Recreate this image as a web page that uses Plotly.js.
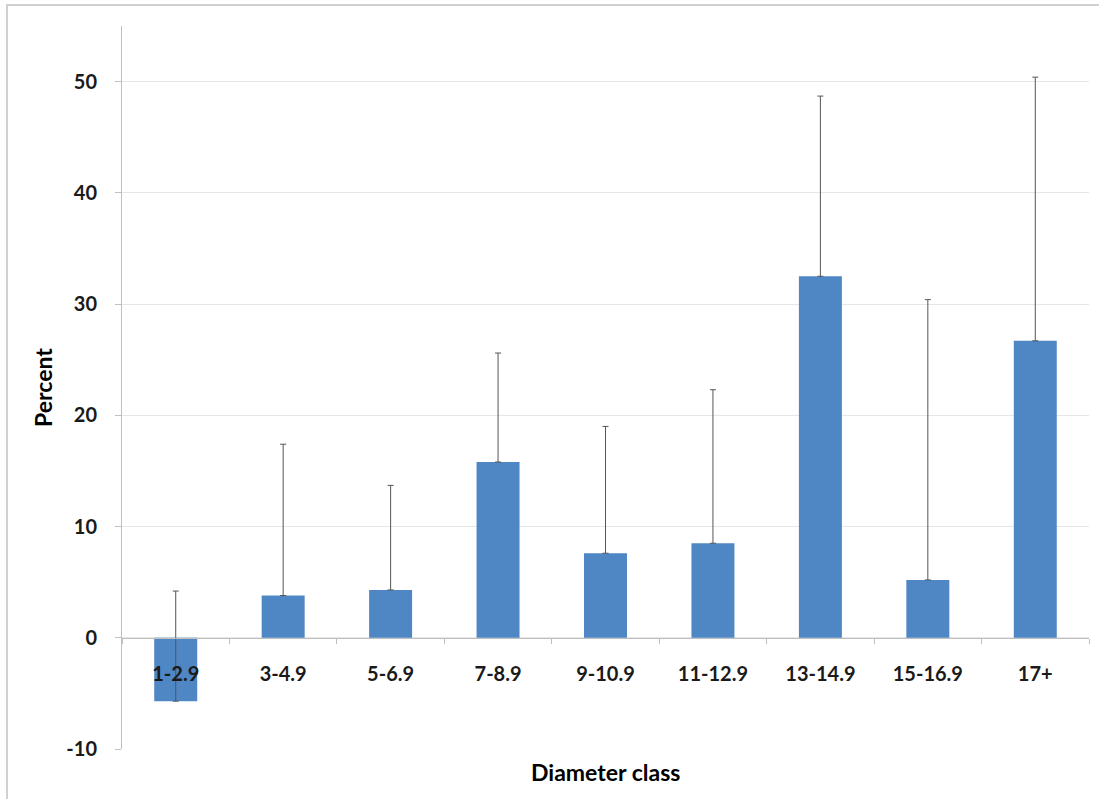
<!DOCTYPE html>
<html>
<head>
<meta charset="utf-8">
<script src="https://cdn.plot.ly/plotly-3.0.1.min.js"></script>
<style>
  html, body { margin: 0; padding: 0; background: #ffffff; }
  #chart { width: 1099px; height: 799px; }
</style>
</head>
<body>
<div id="chart"></div>
<script>
const categories = ["1-2.9", "3-4.9", "5-6.9", "7-8.9", "9-10.9", "11-12.9", "13-14.9", "15-16.9", "17+"];
const percentValues = [-5.7, 3.8, 4.3, 15.8, 7.6, 8.5, 32.5, 5.2, 26.7];
const errorPlus = [9.9, 13.6, 9.4, 9.8, 11.4, 13.8, 16.2, 25.2, 23.7];
const errorMinus = [0, 0, 0, 0, 0, 0, 0, 0, 0];
const yTickValues = [-10, 0, 10, 20, 30, 40, 50];
const xTitle = "Diameter class";
const yTitle = "Percent";

const W = 1099, H = 799;
const mL = 122, mR = 10, mT = 26, mB = 50;
const plotW = W - mL - mR, plotH = H - mT - mB;
const yMin = -10, yMax = 55;
const fontFam = "Lato, 'Open Sans', 'Liberation Sans', sans-serif";

const trace = {
  type: "bar",
  x: categories,
  y: percentValues,
  width: 0.4,
  marker: { color: "#4F86C4", line: { width: 0 } },
  error_y: {
    type: "data",
    symmetric: false,
    array: errorPlus,
    arrayminus: errorMinus,
    color: "#555555",
    thickness: 1,
    width: 3
  },
  hoverinfo: "x+y"
};

const layout = {
  width: W,
  height: H,
  margin: { l: mL, r: mR, t: mT, b: mB },
  paper_bgcolor: "#ffffff",
  plot_bgcolor: "#ffffff",
  showlegend: false,
  font: { family: fontFam, size: 20, color: "#000000" },
  xaxis: {
    type: "category",
    categoryorder: "array",
    categoryarray: categories,
    range: [-0.5, categories.length - 0.5],
    anchor: "free",
    position: (0 - yMin) / (yMax - yMin),
    showline: true,
    linecolor: "#BFBFBF",
    linewidth: 1,
    ticks: "outside",
    tickson: "boundaries",
    ticklen: 5,
    tickcolor: "#BFBFBF",
    showgrid: false,
    zeroline: false,
    tickfont: { family: fontFam, size: 20, color: "#1a1a1a", weight: "bold" },
    ticklabelstandoff: 18,
    fixedrange: true
  },
  yaxis: {
    range: [yMin, yMax],
    tickvals: yTickValues,
    ticktext: yTickValues.map(String),
    showline: true,
    linecolor: "#BFBFBF",
    linewidth: 1,
    ticks: "outside",
    ticklen: 6,
    tickcolor: "#BFBFBF",
    showgrid: true,
    gridcolor: "#E6E6E6",
    gridwidth: 1,
    zeroline: false,
    tickfont: { family: fontFam, size: 20, color: "#1a1a1a", weight: "bold" },
    ticklabelstandoff: 14,
    title: { text: yTitle, font: { family: fontFam, size: 23, color: "#000000", weight: "bold" }, standoff: 7 },
    automargin: false,
    fixedrange: true
  },
  annotations: [
    {
      text: xTitle,
      xref: "paper", yref: "paper",
      x: 0.5, y: -(772 - (H - mB)) / plotH,
      xanchor: "center", yanchor: "middle",
      showarrow: false,
      font: { family: fontFam, size: 23, color: "#000000", weight: "bold" }
    }
  ],
  shapes: [
    {
      type: "rect", xref: "paper", yref: "paper",
      x0: (7 - mL) / plotW, x1: (W + 20 - mL) / plotW,
      y0: -(H + 20 - (H - mB)) / plotH, y1: ((H - mB) - 5) / plotH,
      line: { color: "#D0D0D0", width: 2 },
      fillcolor: "rgba(0,0,0,0)",
      layer: "below"
    }
  ]
};

Plotly.newPlot("chart", [trace], layout, { displayModeBar: false, staticPlot: true });
</script>
</body>
</html>
